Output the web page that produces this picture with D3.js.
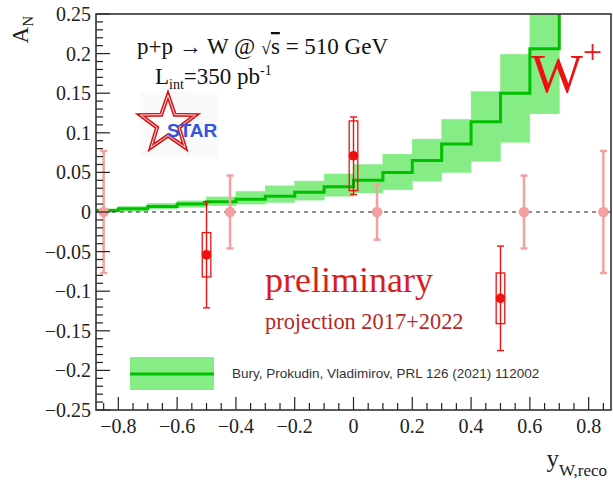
<!DOCTYPE html>
<html><head><meta charset="utf-8">
<script src="https://cdn.jsdelivr.net/npm/d3@7"></script>
<style>
html,body{margin:0;padding:0;background:#fff;}
svg{display:block;}
</style></head>
<body>
<svg id="c" width="613" height="481"></svg>
<script>
// ---- data ----
const binLow   = [-0.9,-0.8,-0.7,-0.6,-0.5,-0.4,-0.3,-0.2,-0.1,0.0,0.1,0.2,0.3,0.4,0.5,0.6,0.7];
const binWidth = 0.1;
const theoryCentral = [0.002,0.004,0.007,0.010,0.013,0.016,0.020,0.025,0.032,0.040,0.050,0.065,0.086,0.114,0.150,0.206,0.290];
const theoryLow     = [0.000,0.001,0.004,0.006,0.008,0.010,0.012,0.015,0.020,0.024,0.028,0.039,0.050,0.064,0.088,0.124,0.260];
const theoryHigh    = [0.004,0.007,0.011,0.014,0.019,0.026,0.033,0.039,0.048,0.060,0.073,0.092,0.117,0.152,0.199,0.280,0.340];

const projX   = [-0.85,-0.42,0.08,0.58,0.85];
const projY   = [0,0,0,0,0];
const projErr = [0.077,0.046,0.035,0.046,0.077];

const prelimX    = [-0.5,0.0,0.5];
const prelimY    = [-0.054,0.071,-0.109];
const prelimStat = [0.067,0.049,0.066];
const prelimSys  = [0.028,0.044,0.032];

const xTicks = [-0.8,-0.6,-0.4,-0.2,0,0.2,0.4,0.6,0.8];
const yTicks = [-0.25,-0.2,-0.15,-0.1,-0.05,0,0.05,0.1,0.15,0.2,0.25];
const xTickLabels = ["\u22120.8","\u22120.6","\u22120.4","\u22120.2","0","0.2","0.4","0.6","0.8"];
const yTickLabels = ["\u22120.25","\u22120.2","\u22120.15","\u22120.1","\u22120.05","0","0.05","0.1","0.15","0.2","0.25"];
const legendText = "Bury, Prokudin, Vladimirov, PRL 126 (2021) 112002";

// ---- layout ----
const L = 96, R = 611, T = 14, B = 410;
const svg = d3.select("#c");
const x = d3.scaleLinear().domain([-0.876,0.876]).range([L,R]);
const y = d3.scaleLinear().domain([-0.25,0.25]).range([B,T]);

const bandFill = "#86ec86", lineCol = "#00c000";
const pink = "#f5a0a0", red = "#ee1111";

svg.append("defs").append("clipPath").attr("id","clip")
  .append("rect").attr("x",L).attr("y",T).attr("width",R-L).attr("height",B-T);

const plot = svg.append("g").attr("clip-path","url(#clip)");

// theory band
plot.selectAll("rect.band").data(binLow).join("rect").attr("class","band")
  .attr("x",(d)=>x(d)).attr("width",(d)=>x(d+binWidth)-x(d))
  .attr("y",(d,i)=>y(theoryHigh[i])).attr("height",(d,i)=>y(theoryLow[i])-y(theoryHigh[i]))
  .attr("fill",bandFill).attr("stroke",bandFill).attr("stroke-width",0.5);

const linePts = binLow.map((d,i)=>[d,theoryCentral[i]]);
linePts.push([binLow[binLow.length-1]+binWidth, theoryCentral[theoryCentral.length-1]]);
plot.append("path").datum(linePts)
  .attr("d",d3.line().x(d=>x(d[0])).y(d=>y(d[1])).curve(d3.curveStepAfter))
  .attr("fill","none").attr("stroke",lineCol).attr("stroke-width",3);

// zero line
plot.append("line").attr("x1",L).attr("x2",R).attr("y1",y(0)).attr("y2",y(0))
  .attr("stroke","#222").attr("stroke-width",1.2).attr("stroke-dasharray","4,4");

// projection points
const pg = plot.append("g");
projX.forEach((xv,i)=>{
  const cx = x(xv);
  pg.append("line").attr("x1",cx).attr("x2",cx).attr("y1",y(projY[i]+projErr[i])).attr("y2",y(projY[i]-projErr[i]))
    .attr("stroke",pink).attr("stroke-width",2.5);
  [projY[i]+projErr[i], projY[i]-projErr[i]].forEach(v=>{
    pg.append("line").attr("x1",cx-3.5).attr("x2",cx+3.5).attr("y1",y(v)).attr("y2",y(v))
      .attr("stroke",pink).attr("stroke-width",2.5);
  });
  pg.append("circle").attr("cx",cx).attr("cy",y(projY[i])).attr("r",5.3).attr("fill",pink);
});

// preliminary points
const rg = plot.append("g");
prelimX.forEach((xv,i)=>{
  const cx = x(xv);
  rg.append("rect").attr("x",cx-4.3).attr("width",8.6)
    .attr("y",y(prelimY[i]+prelimSys[i])).attr("height",y(prelimY[i]-prelimSys[i])-y(prelimY[i]+prelimSys[i]))
    .attr("fill","none").attr("stroke",red).attr("stroke-width",1.3);
  rg.append("line").attr("x1",cx).attr("x2",cx).attr("y1",y(prelimY[i]+prelimStat[i])).attr("y2",y(prelimY[i]-prelimStat[i]))
    .attr("stroke",red).attr("stroke-width",1.4);
  [prelimY[i]+prelimStat[i], prelimY[i]-prelimStat[i]].forEach(v=>{
    rg.append("line").attr("x1",cx-3.5).attr("x2",cx+3.5).attr("y1",y(v)).attr("y2",y(v))
      .attr("stroke",red).attr("stroke-width",1.4);
  });
  rg.append("circle").attr("cx",cx).attr("cy",y(prelimY[i])).attr("r",4.8).attr("fill",red);
});

// axes ticks (inward)
const axY = svg.append("g");
d3.range(-250,251,10).forEach(k=>{
  const v = k/1000, major = (k % 50 === 0);
  axY.append("line").attr("x1",L).attr("x2",L+(major?14:7)).attr("y1",y(v)).attr("y2",y(v))
    .attr("stroke","#222").attr("stroke-width",1.2);
});
yTicks.forEach((v,i)=>{
  axY.append("text").attr("x",L-5).attr("y",y(v)+7).attr("text-anchor","end")
    .attr("font-family","Liberation Serif, serif").attr("font-size",20).attr("fill","#222").text(yTickLabels[i]);
});
const axX = svg.append("g");
d3.range(-85,86,5).forEach(k=>{
  const v = k/100, major = (k % 20 === 0);
  axX.append("line").attr("x1",x(v)).attr("x2",x(v)).attr("y1",B).attr("y2",B-(major?13:7))
    .attr("stroke","#222").attr("stroke-width",1.2);
});
xTicks.forEach((v,i)=>{
  axX.append("text").attr("x",x(v)).attr("y",433).attr("text-anchor","middle")
    .attr("font-family","Liberation Serif, serif").attr("font-size",20).attr("fill","#222").text(xTickLabels[i]);
});

// frame
svg.append("rect").attr("x",L).attr("y",T).attr("width",R-L).attr("height",B-T)
  .attr("fill","none").attr("stroke","#333").attr("stroke-width",1.6);

// axis titles
const at = svg.append("text").attr("transform","translate(28,16) rotate(-90)").attr("text-anchor","end")
  .attr("font-family","Liberation Serif, serif").attr("font-size",23).attr("fill","#222");
at.append("tspan").text("A");
at.append("tspan").attr("font-size",15).attr("dy",5).text("N");

const xt = svg.append("text").attr("x",607).attr("y",467).attr("text-anchor","end")
  .attr("font-family","Liberation Serif, serif").attr("font-size",25).attr("fill","#222");
xt.append("tspan").text("y");
xt.append("tspan").attr("font-size",17).attr("dy",9).text("W,reco");

// header texts
const serif = "Liberation Serif, serif";
const t1 = svg.append("text").attr("x",137).attr("y",54).attr("font-family",serif).attr("font-size",23).attr("fill","#111");
t1.append("tspan").text("p+p \u2192 W @ ");
t1.append("tspan").attr("font-size",18).text("\u221A");
t1.append("tspan").attr("text-decoration","overline").text("s");
t1.append("tspan").text(" = 510 GeV");

const t2 = svg.append("text").attr("x",155).attr("y",84).attr("font-family",serif).attr("font-size",23).attr("fill","#111");
t2.append("tspan").text("L");
t2.append("tspan").attr("font-size",14).attr("dy",5).text("int");
t2.append("tspan").attr("dy",-5).text("=350 pb");
t2.append("tspan").attr("font-size",14).attr("dy",-9).text("-1");

// W+
const wt = svg.append("text").attr("x",531).attr("y",92).attr("font-family",serif).attr("font-size",55).attr("fill","#ee1111");
wt.append("tspan").text("W");
wt.append("tspan").attr("font-size",34).attr("dy",-29).text("+");

// STAR logo
const lg = svg.append("g");
lg.append("rect").attr("x",140).attr("y",92).attr("width",78).attr("height",65).attr("fill","#fafafa");
const cx0 = 168, cy0 = 124, ro = 29, ri = 11.5;
const starPts = d3.range(10).map(k=>{
  const a = -Math.PI/2 + k*Math.PI/5, r = (k%2===0)?ro:ri;
  return [cx0 + r*Math.cos(a), cy0 + r*Math.sin(a)];
});
lg.append("polygon").attr("points",starPts.map(p=>p.join(",")).join(" "))
  .attr("fill","#fff").attr("stroke","#d81818").attr("stroke-width",4).attr("stroke-linejoin","miter");
lg.append("polygon").attr("points",starPts.map(p=>p.join(",")).join(" "))
  .attr("fill","none").attr("stroke","#fbe0e0").attr("stroke-width",1);
lg.append("text").attr("x",167).attr("y",137).attr("font-family","Liberation Sans, Arial, sans-serif")
  .attr("font-weight","bold").attr("font-size",19).attr("fill","#3355dd").text("STAR");

// preliminary
svg.append("text").attr("x",265).attr("y",292).attr("font-family",serif).attr("font-size",36)
  .attr("fill","#d81e1e").text("preliminary");
svg.append("text").attr("x",265).attr("y",329).attr("font-family",serif).attr("font-size",22.4)
  .attr("fill","#b52828").text("projection 2017+2022");

// legend
svg.append("rect").attr("x",130).attr("y",357).attr("width",84).attr("height",33).attr("fill",bandFill);
svg.append("line").attr("x1",130).attr("x2",214).attr("y1",374).attr("y2",374).attr("stroke",lineCol).attr("stroke-width",3);
svg.append("text").attr("x",232).attr("y",378).attr("font-family","Liberation Sans, Arial, sans-serif")
  .attr("font-size",13.5).attr("fill","#333").text(legendText);
</script>
</body></html>
